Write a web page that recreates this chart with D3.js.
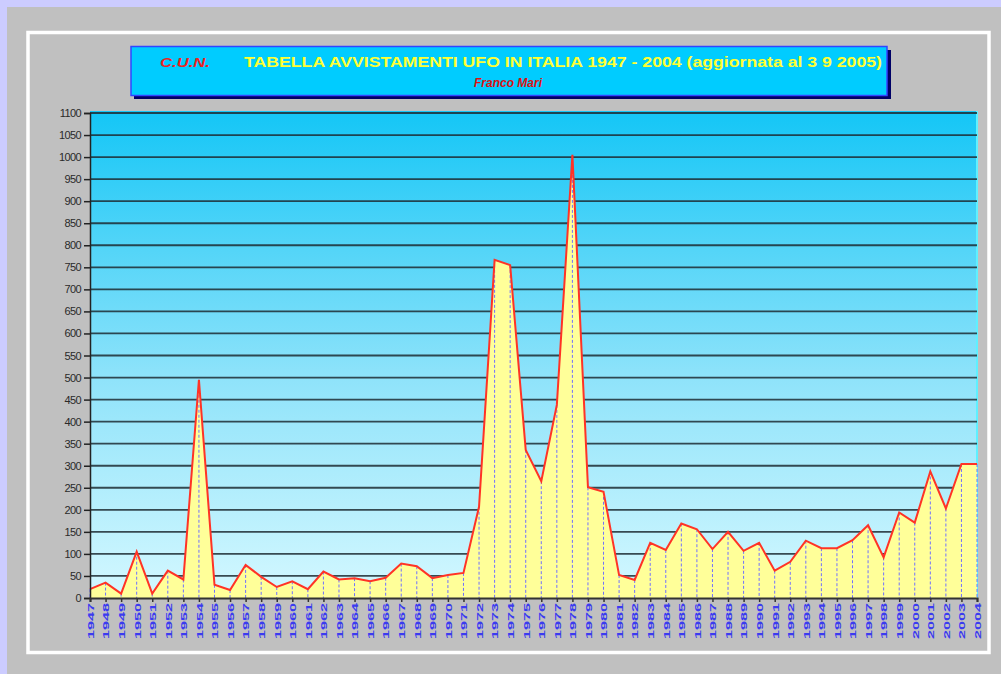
<!DOCTYPE html>
<html><head><meta charset="utf-8">
<script src="https://cdn.jsdelivr.net/npm/d3@7/dist/d3.min.js"></script>
<style>html,body{margin:0;padding:0;background:#c0c0c0;}svg{display:block;}</style>
</head><body>
<svg id="c" width="1001" height="674"></svg>
<script>
const years = d3.range(1947, 2005);
const sightings = [20,35,10,105,10,62,42,495,30,18,75,48,25,38,20,
  60,42,45,38,46,78,72,45,52,57,207,767,755,336,265,438,1005,251,241,
  52,41,125,109,169,156,111,150,107,125,62,82,130,113,113,131,165,92,194,171,287,203,304,304];
const yTicks = d3.range(0, 1101, 50);
const titleMain = "TABELLA  AVVISTAMENTI  UFO  IN  ITALIA  1947 - 2004 (aggiornata al 3 9 2005)";
const titleOrg = "C.U.N.";
const titleAuthor = "Franco Mari";

const svg = d3.select("#c");
svg.append("rect").attr("width",1001).attr("height",674).attr("fill","#c0c0c0");
svg.append("rect").attr("x",0).attr("y",0).attr("width",1001).attr("height",7).attr("fill","#ccccff");
svg.append("rect").attr("x",0).attr("y",0).attr("width",7).attr("height",674).attr("fill","#ccccff");
svg.append("rect").attr("x",28).attr("y",32.5).attr("width",961).attr("height",620)
  .attr("fill","none").attr("stroke","#ffffff").attr("stroke-width",3.5);

const defs = svg.append("defs");
const g1 = defs.append("linearGradient").attr("id","bg").attr("x1",0).attr("y1",0).attr("x2",0).attr("y2",1);
g1.append("stop").attr("offset","0%").attr("stop-color","#14c6f6");
g1.append("stop").attr("offset","55%").attr("stop-color","#8fe3fa");
g1.append("stop").attr("offset","100%").attr("stop-color","#d4f8ff");

const x = d3.scaleLinear().domain([1947, 2004]).range([90, 977]);
const y = d3.scaleLinear().domain([0, 1100]).range([598, 113]);

svg.append("rect").attr("x",x.range()[0]).attr("y",y(1100)-2).attr("width",x.range()[1]-x.range()[0])
  .attr("height",y(0)-y(1100)+2).attr("fill","url(#bg)");
svg.append("line").attr("x1",x(2004)).attr("x2",x(2004)).attr("y1",y(1100)-2).attr("y2",y(0))
  .attr("stroke","#5ef0ff").attr("stroke-width",2);

svg.append("g").selectAll("line").data(yTicks.filter(d=>d>0)).join("line")
  .attr("x1",x(1947)).attr("x2",x(2004)).attr("y1",d=>y(d)).attr("y2",d=>y(d))
  .attr("stroke","#1d2b33").attr("stroke-width",1.8).attr("stroke-opacity",0.85);

const area = d3.area().x((d,i)=>x(years[i])).y0(y(0)).y1(d=>y(d));
const line = d3.line().x((d,i)=>x(years[i])).y(d=>y(d));
svg.append("path").datum(sightings).attr("d",area).attr("fill","#ffff99");

svg.append("g").selectAll("line").data(sightings).join("line")
  .attr("x1",(d,i)=>x(years[i])).attr("x2",(d,i)=>x(years[i]))
  .attr("y1",d=>y(d)).attr("y2",y(0))
  .attr("stroke","#7070ff").attr("stroke-width",1).attr("stroke-dasharray","3,2");

svg.append("path").datum(sightings).attr("d",line).attr("fill","none")
  .attr("stroke","#ff3326").attr("stroke-width",2).attr("stroke-linejoin","miter").attr("stroke-miterlimit",4);

const yAxis = d3.axisLeft(y).tickValues(yTicks).tickSize(6).tickPadding(3).tickFormat(d3.format("d"));
const ya = svg.append("g").attr("transform",`translate(${x(1947)},0)`).call(yAxis);
ya.select(".domain").attr("stroke","#222").attr("stroke-width",1.5);
ya.selectAll(".tick line").attr("stroke","#222").attr("stroke-width",1.5);
ya.selectAll("text").attr("font-family","Liberation Sans, Arial, sans-serif").attr("font-size",11)
  .attr("fill","#2a2a2a").attr("letter-spacing","-0.6");

const xAxis = d3.axisBottom(x).tickValues(years).tickSize(4).tickFormat(d3.format("d"));
const xa = svg.append("g").attr("transform",`translate(0,${y(0)})`).call(xAxis);
xa.select(".domain").attr("stroke","#333").attr("stroke-width",2);
xa.selectAll(".tick line").attr("stroke","#333").attr("stroke-width",1.5);
xa.selectAll("text").attr("font-family","Liberation Sans, Arial, sans-serif").attr("font-size",9.5)
  .attr("font-weight","bold").attr("fill","#3b3bf0")
  .attr("textLength",36).attr("lengthAdjust","spacingAndGlyphs")
  .attr("transform","rotate(-90)").attr("text-anchor","end").attr("dy","0.35em").attr("x",-5).attr("y",0);

svg.append("rect").attr("x",134).attr("y",50).attr("width",757).attr("height",49).attr("fill","#000066");
svg.append("rect").attr("x",131).attr("y",46.5).attr("width",756).attr("height",49)
  .attr("fill","#00ccff").attr("stroke","#3344ff").attr("stroke-width",1.5);
svg.append("text").attr("x",160).attr("y",67).text(titleOrg)
  .attr("font-family","Liberation Sans, Arial, sans-serif").attr("font-size",13).attr("font-weight","bold")
  .attr("font-style","italic").attr("fill","#ee2222").attr("textLength",50).attr("lengthAdjust","spacingAndGlyphs");
svg.append("text").attr("x",244).attr("y",67).text(titleMain)
  .attr("font-family","Liberation Sans, Arial, sans-serif").attr("font-size",14).attr("font-weight","bold")
  .attr("fill","#ffff33").attr("textLength",638).attr("lengthAdjust","spacingAndGlyphs");
svg.append("text").attr("x",508).attr("y",87).text(titleAuthor).attr("text-anchor","middle")
  .attr("font-family","Liberation Sans, Arial, sans-serif").attr("font-size",12).attr("font-weight","bold")
  .attr("font-style","italic").attr("fill","#dd1111");
</script>
</body></html>
